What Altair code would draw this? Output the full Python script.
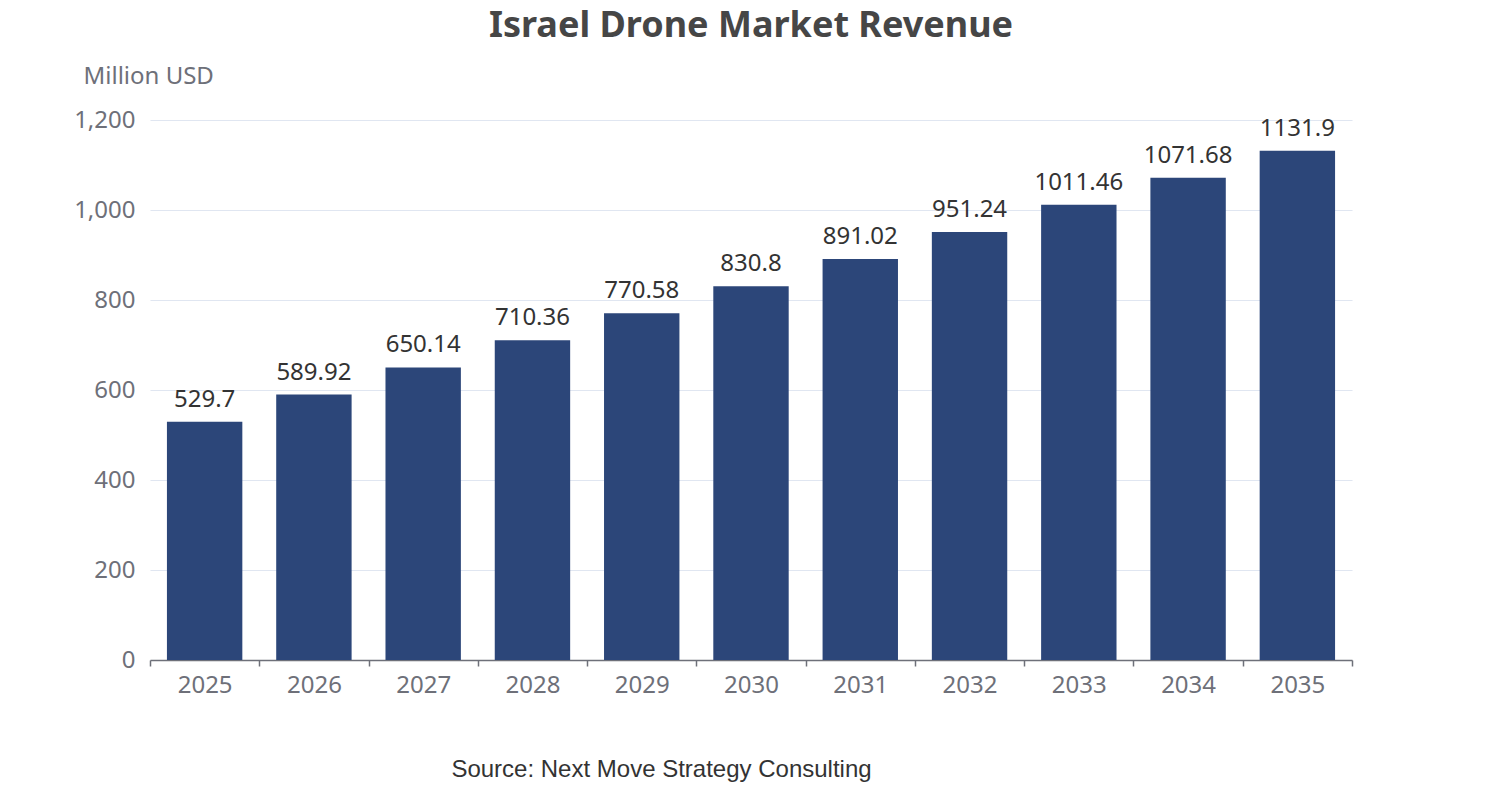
import altair as alt
import pandas as pd

title_text = "Israel Drone Market Revenue"
years = ["2025", "2026", "2027", "2028", "2029", "2030", "2031", "2032", "2033", "2034", "2035"]
revenue = [529.7, 589.92, 650.14, 710.36, 770.58, 830.8, 891.02, 951.24, 1011.46, 1071.68, 1131.9]
labels = ["529.7", "589.92", "650.14", "710.36", "770.58", "830.8", "891.02", "951.24", "1011.46", "1071.68", "1131.9"]
y_ticks = [0, 200, 400, 600, 800, 1000, 1200]

df = pd.DataFrame({"year": years, "revenue": revenue, "label": labels})

FONT = "Noto Sans"
AXIS_GREY = "#6e7079"

x = alt.X(
    "year:N",
    sort=None,
    scale=alt.Scale(paddingInner=0, paddingOuter=0),
    axis=alt.Axis(
        title="Source: Next Move Strategy Consulting",
        titleFont="Liberation Sans",
        titleFontSize=24,
        titleFontWeight="normal",
        titleColor="#333333",
        titleX=511,
        titleY=116,
        titleAlign="center",
        titleBaseline="alphabetic",
        labelAngle=0,
        labelFont=FONT,
        labelFontSize=24,
        labelColor=AXIS_GREY,
        labelPadding=7,
        domainColor=AXIS_GREY,
        domainWidth=1.5,
        tickColor=AXIS_GREY,
        tickWidth=1.5,
        tickSize=6,
        tickBand="extent",
        grid=False,
    ),
)

y = alt.Y(
    "revenue:Q",
    scale=alt.Scale(domain=[0, 1200], nice=False),
    axis=alt.Axis(
        title="Million USD",
        titleAngle=0,
        titleAlign="left",
        titleBaseline="alphabetic",
        titleX=-67,
        titleY=-37,
        titleFont=FONT,
        titleFontSize=24,
        titleFontWeight="normal",
        titleColor=AXIS_GREY,
        values=y_ticks,
        format=",.0f",
        labelFont=FONT,
        labelFontSize=24,
        labelColor=AXIS_GREY,
        labelPadding=15,
        domain=False,
        ticks=False,
        grid=True,
        gridColor="#e0e6f1",
        gridWidth=1.2,
    ),
)

bars = alt.Chart(df).mark_bar(color="#2c4679", width=alt.RelativeBandSize(0.69)).encode(x=x, y=y)

text = alt.Chart(df).mark_text(
    baseline="bottom", dy=-10, font=FONT, fontSize=24, color="#333333"
).encode(x=alt.X("year:N", sort=None), y="revenue:Q", text="label:N")

title = alt.Chart(pd.DataFrame({"t": [title_text]})).mark_text(
    font=FONT, fontSize=36, fontWeight="bold", color="#464646",
    align="center", baseline="alphabetic",
).encode(x=alt.value(601), y=alt.value(-83), text="t:N")

chart = (
    alt.layer(bars, text, title)
    .properties(
        width=1202,
        height=540,
        autosize=alt.AutoSizeParams(type="none"),
        padding={"left": 142, "top": 112, "right": 142, "bottom": 132},
    )
    .configure_view(stroke=None)
)

chart.save("out.html", embed_options={"renderer": "svg", "actions": False})
